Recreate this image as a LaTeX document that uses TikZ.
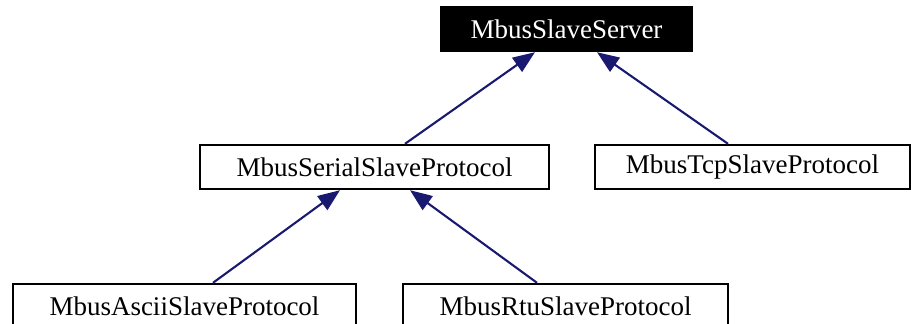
\documentclass[tikz,border=0pt]{standalone}
\usepackage{fontspec}
\setmainfont{Liberation Serif}
\usepackage{tikz}
\usetikzlibrary{arrows.meta}

\begin{document}
\begin{tikzpicture}[
    x=1pt, y=-1pt,
    cls/.style={draw, line width=2.4pt, minimum height=44pt, inner sep=0pt, font=\fontsize{27}{30}\selectfont},
    base/.style={cls, fill=black, text=white, draw=black},
    inh/.style={{Triangle[length=22pt,width=17pt]}-, line width=2.1pt, draw=midblue, fill=midblue}
]
\definecolor{midblue}{RGB}{25,25,112}
\useasboundingbox (0,0) rectangle (911,324);
\node[base, minimum width=251pt] (server) at (566.5,29) {MbusSlaveServer};
\node[cls, minimum width=349pt] (serial) at (374.5,167) {MbusSerialSlaveProtocol};
\node[cls, minimum width=315pt] (tcp) at (752.5,167) {MbusTcpSlaveProtocol};
\node[cls, minimum width=343pt] (ascii) at (184.5,306) {MbusAsciiSlaveProtocol};
\node[cls, minimum width=325pt] (rtu) at (565.5,306) {MbusRtuSlaveProtocol};
\draw[inh] ([xshift=-31.5pt]server.south) -- ([xshift=30.5pt]serial.north);
\draw[inh] ([xshift=30.5pt]server.south) -- ([xshift=-24.5pt]tcp.north);
\draw[inh] ([xshift=-34.5pt]serial.south) -- ([xshift=28.5pt]ascii.north);
\draw[inh] ([xshift=35.5pt]serial.south) -- ([xshift=-28.5pt]rtu.north);
\end{tikzpicture}
\end{document}
